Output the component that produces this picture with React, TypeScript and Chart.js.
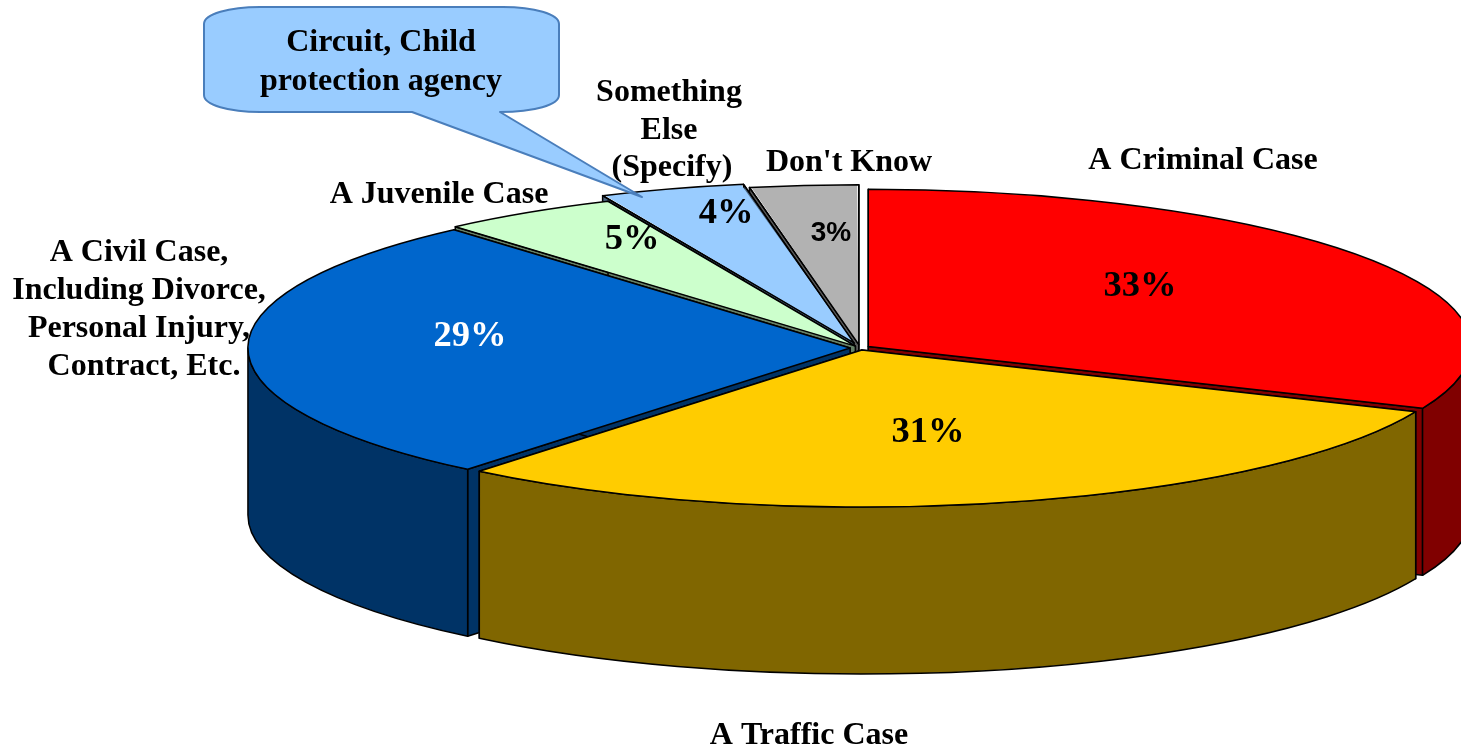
import React, { useEffect, useRef } from "react";
import { Chart, registerables } from "chart.js";

Chart.register(...registerables);

const categories = [
  "A Criminal Case",
  "A Traffic Case",
  "A Civil Case, Including Divorce, Personal Injury, Contract, Etc.",
  "A Juvenile Case",
  "Something Else (Specify)",
  "Don't Know",
];
const shares = [33, 31, 29, 5, 4, 3];
const topColors = ["#FF0000", "#FFCC00", "#0066CC", "#CCFFCC", "#99CCFF", "#B2B2B2"];
const sideColors = ["#800000", "#806600", "#003366", "#668066", "#4D6680", "#595959"];
const explode = [23, 18, 23, 20, 48, 30];

const calloutLines = ["Circuit, Child", "protection agency"];
const SERIF = '"Liberation Serif", "Times New Roman", serif';
const SANS = '"Liberation Sans", Arial, sans-serif';

const sliceLabels: [string, number, number][] = [
  ["A Criminal Case", 1203, 161],
  ["A Traffic Case", 809, 736],
  ["A Civil Case,", 139, 253],
  ["Including Divorce,", 139, 291],
  ["Personal Injury,", 139, 329],
  ["Contract, Etc.", 144, 367],
  ["A Juvenile Case", 439, 195],
  ["Something", 669, 93],
  ["Else", 669, 131],
  ["(Specify)", 672, 168],
  ["Don't Know", 849, 163],
];
const pctPlace: [number, number][] = [
  [1140, 287],
  [928, 433],
  [470, 337],
  [632, 240],
  [726, 214],
  [831, 233],
];

const CX = 860;
const CY = 348;
const RX = 602;
const RY = 157;
const DEPTH = 167;

const geometry = (arc: any, sx: number, sy: number) => {
  const p = arc.getProps(["startAngle", "endAngle", "outerRadius"], true);
  const o = (arc.options.offset || 0) / 4;
  const circ = p.endAngle - p.startAngle;
  const fix = 1 - Math.sin(Math.min(Math.PI, circ));
  const mid = (p.startAngle + p.endAngle) / 2;
  const r = p.outerRadius + o * fix;
  return {
    start: p.startAngle,
    end: p.endAngle,
    mid,
    x: CX + Math.cos(mid) * o * sx,
    y: CY + Math.sin(mid) * o * sy,
    rx: r * sx,
    ry: r * sy,
  };
};

const scales = (arcs: any[]) => {
  const r = arcs[0].outerRadius;
  return { sx: RX / r, sy: RY / r };
};

const pie3d = {
  id: "pie3d",
  beforeDatasetDraw(chart: any) {
    const { ctx } = chart;
    const arcs = chart.getDatasetMeta(0).data;
    const { sx, sy } = scales(arcs);
    const items = arcs
      .map((a: any, i: number) => ({ g: geometry(a, sx, sy), i }))
      .sort((p: any, q: any) => Math.sin(p.g.mid) - Math.sin(q.g.mid));
    ctx.save();
    ctx.lineWidth = 1.5;
    ctx.strokeStyle = "#000";
    ctx.lineJoin = "round";
    for (const { g, i } of items) {
      ctx.fillStyle = sideColors[i];
      for (const ang of [g.start, g.end]) {
        const ex = g.x + Math.cos(ang) * g.rx;
        const ey = g.y + Math.sin(ang) * g.ry;
        ctx.beginPath();
        ctx.moveTo(g.x, g.y);
        ctx.lineTo(ex, ey);
        ctx.lineTo(ex, ey + DEPTH);
        ctx.lineTo(g.x, g.y + DEPTH);
        ctx.closePath();
        ctx.fill();
        ctx.stroke();
      }
      const a = Math.max(g.start, 0);
      const b = Math.min(g.end, Math.PI);
      if (b > a) {
        ctx.beginPath();
        ctx.ellipse(g.x, g.y, g.rx, g.ry, 0, a, b);
        ctx.ellipse(g.x, g.y + DEPTH, g.rx, g.ry, 0, b, a, true);
        ctx.closePath();
        ctx.fill();
        ctx.stroke();
      }
    }
    ctx.restore();
    ctx.save();
    ctx.translate(CX, CY);
    ctx.scale(sx, sy);
    ctx.translate(-arcs[0].x, -arcs[0].y);
  },
  afterDatasetDraw(chart: any) {
    const { ctx } = chart;
    ctx.restore();
    const arcs = chart.getDatasetMeta(0).data;
    const { sx, sy } = scales(arcs);
    ctx.save();
    ctx.lineWidth = 1.5;
    ctx.strokeStyle = "#000";
    ctx.lineJoin = "round";
    arcs.forEach((arc: any) => {
      const g = geometry(arc, sx, sy);
      ctx.beginPath();
      ctx.moveTo(g.x, g.y);
      ctx.ellipse(g.x, g.y, g.rx, g.ry, 0, g.start, g.end);
      ctx.closePath();
      ctx.stroke();
    });

    ctx.textAlign = "center";
    ctx.textBaseline = "middle";
    ctx.fillStyle = "#000";
    ctx.font = `bold 32px ${SERIF}`;
    sliceLabels.forEach(([t, x, y]) => ctx.fillText(t, x, y));

    shares.forEach((v, i) => {
      ctx.font = i === 5 ? `bold 28px ${SANS}` : `bold 36.5px ${SERIF}`;
      ctx.fillStyle = i === 2 ? "#fff" : "#000";
      ctx.fillText(`${v}%`, pctPlace[i][0], pctPlace[i][1]);
    });

    // callout balloon
    ctx.beginPath();
    ctx.moveTo(260, 7);
    ctx.lineTo(503, 7);
    ctx.bezierCurveTo(534, 7, 559, 14, 559, 24);
    ctx.lineTo(559, 95);
    ctx.bezierCurveTo(559, 105, 534, 112, 500, 112);
    ctx.lineTo(642, 197);
    ctx.lineTo(412, 112);
    ctx.lineTo(260, 112);
    ctx.bezierCurveTo(229, 112, 204, 105, 204, 95);
    ctx.lineTo(204, 24);
    ctx.bezierCurveTo(204, 14, 229, 7, 260, 7);
    ctx.closePath();
    ctx.fillStyle = "#99CCFF";
    ctx.fill();
    ctx.strokeStyle = "#4A7EBB";
    ctx.lineWidth = 2;
    ctx.stroke();
    ctx.fillStyle = "#000";
    ctx.font = `bold 32px ${SERIF}`;
    ctx.fillText(calloutLines[0], 381, 43);
    ctx.fillText(calloutLines[1], 381, 82);
    ctx.restore();
  },
};

export default function App() {
  const ref = useRef<HTMLCanvasElement>(null);
  useEffect(() => {
    document.body.style.margin = "0";
    const chart = new Chart(ref.current!, {
      type: "pie",
      data: {
        labels: categories,
        datasets: [
          {
            data: shares,
            backgroundColor: topColors,
            borderWidth: 0,
            offset: explode,
            clip: false,
          } as any,
        ],
      },
      options: {
        responsive: false,
        animation: false,
        layout: { padding: 0 },
        plugins: { legend: { display: false }, tooltip: { enabled: false } },
      },
      plugins: [pie3d],
    });
    return () => chart.destroy();
  }, []);
  return <canvas ref={ref} width={1461} height={746} style={{ display: "block" }} />;
}
